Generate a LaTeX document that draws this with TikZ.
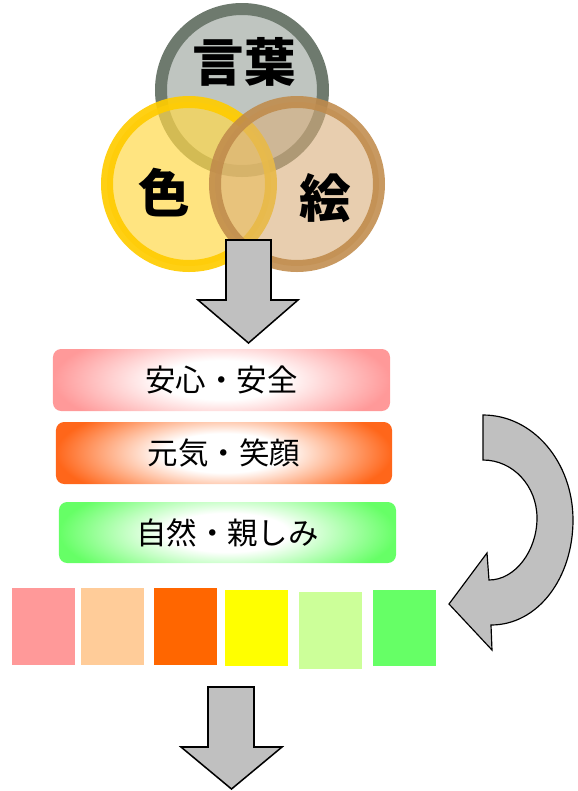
\documentclass[tikz,border=0pt]{standalone}
\usepackage{fontspec}
\usepackage{xcolor}
\usepackage{tikz}
\usetikzlibrary{calc}
\newfontfamily\jp{Noto Sans CJK JP}
\definecolor{kotobaring}{RGB}{110, 122, 110}
\definecolor{kotobafill}{RGB}{191, 197, 192}
\definecolor{iroring}{RGB}{255, 204, 0}
\definecolor{irofill}{RGB}{255, 216, 74}
\definecolor{ering}{RGB}{192, 139, 75}
\definecolor{efill}{RGB}{217, 174, 122}
\definecolor{arrowgray}{RGB}{192, 192, 192}
\definecolor{anshinpink}{RGB}{255, 153, 153}
\definecolor{genkiorange}{RGB}{255, 102, 26}
\definecolor{shizengreen}{RGB}{102, 255, 102}
\definecolor{swpink}{RGB}{255, 153, 153}
\definecolor{swpeach}{RGB}{255, 204, 153}
\definecolor{sworange}{RGB}{255, 102, 0}
\definecolor{swyellow}{RGB}{255, 255, 0}
\definecolor{swlime}{RGB}{204, 255, 153}
\definecolor{swgreen}{RGB}{102, 255, 102}
\pgfdeclareradialshading{anshinshade}{\pgfpoint{0bp}{0bp}}{color(0bp)=(white); color(9bp)=(white); color(25bp)=(anshinpink); color(50bp)=(anshinpink)}
\pgfdeclareradialshading{genkishade}{\pgfpoint{0bp}{0bp}}{color(0bp)=(white); color(9bp)=(white); color(25bp)=(genkiorange); color(50bp)=(genkiorange)}
\pgfdeclareradialshading{shizenshade}{\pgfpoint{0bp}{0bp}}{color(0bp)=(white); color(9bp)=(white); color(25bp)=(shizengreen); color(50bp)=(shizengreen)}

\begin{document}
\begin{tikzpicture}[
  x=0.3mm, y=-0.3mm,
  ringnode/.style={circle, inner sep=0, minimum size=49.2mm, line width=3.6mm},
  bigword/.style={inner sep=0, font=\jp\bfseries\fontsize{44}{48}\selectfont},
  barbox/.style={rectangle, rounded corners=7pt, inner sep=0, minimum height=18.6mm,
    font=\jp\fontsize{26}{30}\selectfont,
    path picture={\shade[shading=#1] ([yshift=-20pt]path picture bounding box.south west)
      rectangle ([yshift=20pt]path picture bounding box.north east);}},
  swatch/.style={rectangle, inner sep=0, minimum width=18.9mm, minimum height=23.1mm, fill=#1},
  blockarrow/.style={fill=arrowgray, draw=black, line width=1.3pt, line join=miter},
]
\useasboundingbox (0, 0) rectangle (578, 791);

% ==================== Three circles ====================
\node[ringnode, minimum size=48.6mm, draw=kotobaring, fill=kotobafill] (kotobacircle) at (242, 90) {};
\node[ringnode, draw=iroring, draw opacity=0.92, fill=irofill, fill opacity=0.7] (irocircle) at (189, 184) {};
\node[ringnode, draw=ering, draw opacity=0.88, fill=efill, fill opacity=0.6] (ecircle) at (297, 184) {};

\node[bigword] (kotoba) at (244, 62) {言葉};
\node[bigword] (iro) at (164, 193) {色};
\node[bigword] (e) at (325, 198) {絵};

% ==================== Arrow down ====================
\draw[blockarrow] (226, 240) -- (271, 240) -- (271, 300) -- (298, 300)
  -- (248.5, 343) -- (198, 300) -- (226, 300) -- cycle;

% ==================== Keyword bars ====================
\node[barbox=anshinshade, minimum width=101.1mm] (anshin) at (221.5, 380) {安心・安全};
\node[barbox=genkishade, minimum width=100.8mm] (genki) at (224, 453) {元気・笑顔};
\node[barbox=shizenshade, minimum width=101.1mm, minimum height=18.3mm] (shizen) at (227.5, 532.5) {自然・親しみ};

% ==================== Turn arrow ====================
\draw[blockarrow, line width=1pt] (483, 415)
  .. controls (533, 415) and (573, 462) .. (573, 520)
  .. controls (573, 578) and (538, 625) .. (491, 625)
  -- (492, 650) -- (449, 604) -- (487, 553) -- (489, 580)
  .. controls (515, 580) and (537, 551) .. (537, 518)
  .. controls (537, 486) and (513, 460) .. (483, 460) -- cycle;

% ==================== Colour swatches ====================
\node[swatch=swpink] (sw1) at (43.5, 626.5) {};
\node[swatch=swpeach] (sw2) at (112.5, 626.5) {};
\node[swatch=sworange] (sw3) at (185.5, 626.5) {};
\node[swatch=swyellow, minimum height=22.8mm] (sw4) at (256.5, 628) {};
\node[swatch=swlime] (sw5) at (330.5, 630.5) {};
\node[swatch=swgreen, minimum height=22.8mm] (sw6) at (404.5, 628) {};

% ==================== Arrow down ====================
\draw[blockarrow] (208, 687) -- (254, 687) -- (254, 747) -- (282, 747)
  -- (231.5, 789) -- (181, 747) -- (208, 747) -- cycle;

\end{tikzpicture}
\end{document}
